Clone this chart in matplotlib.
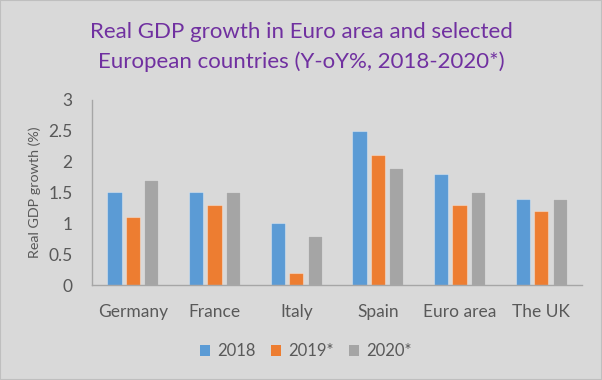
import matplotlib
matplotlib.use("Agg")
import matplotlib.pyplot as plt
import numpy as np
from matplotlib.patches import Rectangle

categories = ["Germany", "France", "Italy", "Spain", "Euro area", "The UK"]
series_names = ["2018", "2019*", "2020*"]
v2018 = [1.5, 1.5, 1.0, 2.5, 1.8, 1.4]
v2019 = [1.1, 1.3, 0.2, 2.1, 1.3, 1.2]
v2020 = [1.7, 1.5, 0.8, 1.9, 1.5, 1.4]
colors = ["#5b9bd5", "#ed7d31", "#a5a5a5"]

plt.rcParams['font.family'] = ['Lato', 'DejaVu Sans']

fig = plt.figure(figsize=(6.02, 3.8), dpi=100, facecolor="#d9d9d9")
ax = fig.add_axes([0.153, 0.25, 0.814, 0.487])
ax.set_facecolor("#d9d9d9")

x = np.arange(len(categories))
w = 0.175
step = 0.225
for i, (vals, name, c) in enumerate(zip([v2018, v2019, v2020], series_names, colors)):
    ax.bar(x + (i - 1) * step, vals, width=w, color=c, label=name,
           edgecolor=(1, 1, 1, 0.35), linewidth=0.8)

ax.set_xlim(-0.5, len(categories) - 0.5)
ax.set_ylim(0, 3)
ax.set_yticks([0, 0.5, 1, 1.5, 2, 2.5, 3])
ax.set_yticklabels(["0", "0.5", "1", "1.5", "2", "2.5", "3"])
ax.set_xticks(x)
ax.set_xticklabels(categories)
for s in ["top", "right"]:
    ax.spines[s].set_visible(False)
for s in ["left", "bottom"]:
    ax.spines[s].set_color("#a6a6a6")
    ax.spines[s].set_linewidth(1.0)
ax.tick_params(axis="both", length=0, colors="#595959", labelsize=12.5)
ax.tick_params(axis="x", pad=14)
ax.tick_params(axis="y", pad=14)
ax.set_ylabel("Real GDP growth (%)", color="#595959", fontsize=10.3, labelpad=5)

fig.text(0.5, 0.915, "Real GDP growth in Euro area and selected", ha="center", va="center",
         color="#7030a0", fontsize=16)
fig.text(0.5, 0.838, "European countries (Y-oY%, 2018-2020*)", ha="center", va="center",
         color="#7030a0", fontsize=16)

leg = fig.legend(loc="center", bbox_to_anchor=(0.508, 0.075), ncol=3, frameon=False,
                 fontsize=12, handlelength=0.6, handleheight=0.6, columnspacing=0.95,
                 handletextpad=0.4, labelcolor="#595959")
for h in leg.legend_handles:
    h.set_edgecolor("none")

fig.patches.append(Rectangle((0, 0), 1, 1, transform=fig.transFigure, fill=False,
                             edgecolor="#bfbfbf", linewidth=1.5))

fig.savefig("out.png", dpi=100, facecolor=fig.get_facecolor())
